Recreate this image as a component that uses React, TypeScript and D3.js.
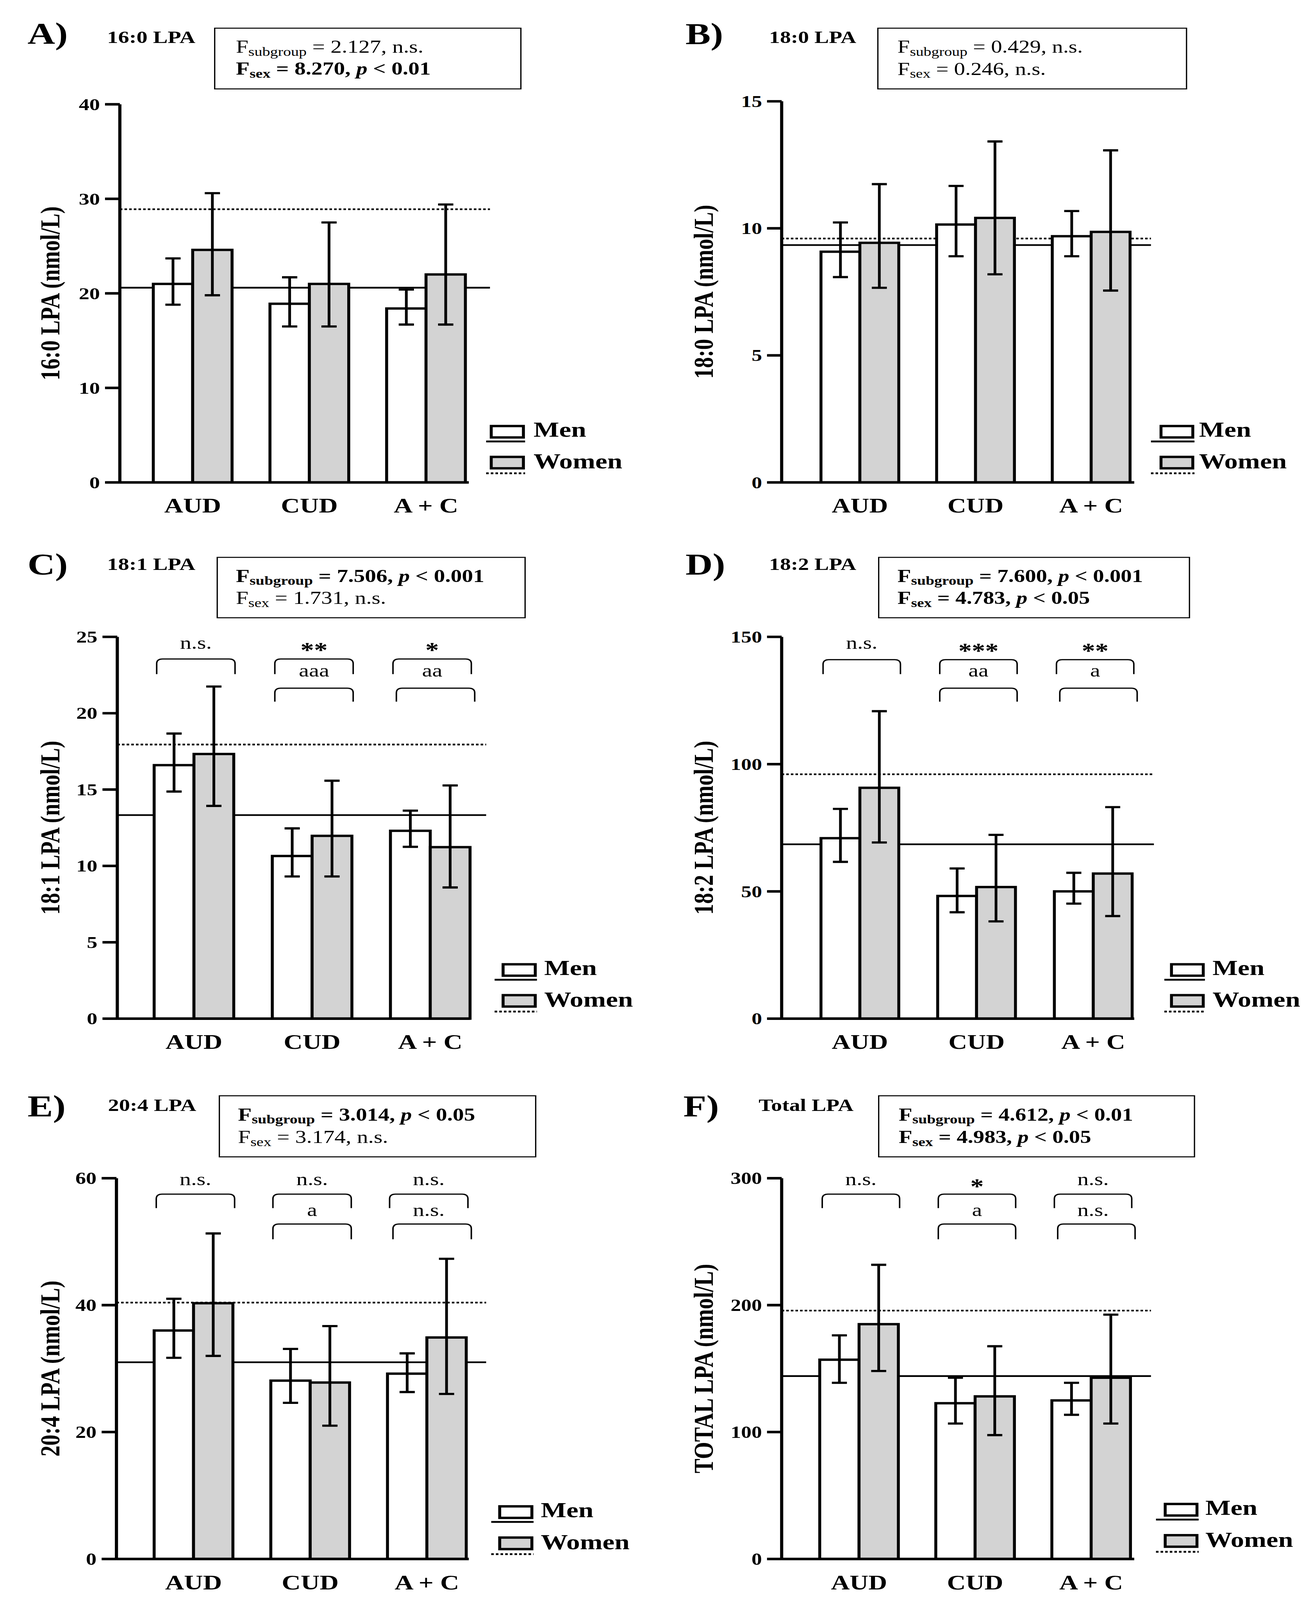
import React from "react";
import * as d3 from "d3";

const categories = ["AUD", "CUD", "A + C"];
const series = ["Men", "Women"];

// ---- Panel A: 16:0 LPA
const aMen = [21.0, 18.9, 18.4];
const aMenLo = [18.8, 16.5, 16.7];
const aMenHi = [23.7, 21.7, 20.4];
const aWomen = [24.6, 21.0, 22.0];
const aWomenLo = [19.8, 16.5, 16.7];
const aWomenHi = [30.6, 27.5, 29.4];
const aRef = [20.6, 28.9];
const aTicks = [0, 10, 20, 30, 40];
const aStats = [["subgroup", "2.127", null], ["sex", "8.270", "0.01"]];

// ---- Panel B: 18:0 LPA
const bMen = [9.08, 10.15, 9.69];
const bMenLo = [8.08, 8.9, 8.9];
const bMenHi = [10.23, 11.67, 10.68];
const bWomen = [9.43, 10.41, 9.86];
const bWomenLo = [7.66, 8.19, 7.55];
const bWomenHi = [11.74, 13.42, 13.07];
const bRef = [9.34, 9.6];
const bTicks = [0, 5, 10, 15];
const bStats = [["subgroup", "0.429", null], ["sex", "0.246", null]];

// ---- Panel C: 18:1 LPA
const cMen = [16.6, 10.65, 12.3];
const cMenLo = [14.87, 9.31, 11.25];
const cMenHi = [18.67, 12.46, 13.62];
const cWomen = [17.33, 11.97, 11.23];
const cWomenLo = [13.93, 9.31, 8.59];
const cWomenHi = [21.75, 15.58, 15.27];
const cRef = [13.33, 17.95];
const cTicks = [0, 5, 10, 15, 20, 25];
const cStats = [["subgroup", "7.506", "0.001"], ["sex", "1.731", null]];
const cTop = ["n.s.", "**", "*"];
const cMid = [null, "aaa", "aa"];

// ---- Panel D: 18:2 LPA
const dMen = [70.9, 48.2, 50.0];
const dMenLo = [61.6, 41.8, 45.2];
const dMenHi = [82.4, 59.0, 57.3];
const dWomen = [90.7, 51.7, 57.0];
const dWomenLo = [69.2, 38.2, 40.3];
const dWomenHi = [120.8, 72.2, 83.1];
const dRef = [68.5, 96.0];
const dTicks = [0, 50, 100, 150];
const dStats = [["subgroup", "7.600", "0.001"], ["sex", "4.783", "0.05"]];
const dTop = ["n.s.", "***", "**"];
const dMid = [null, "aa", "a"];

// ---- Panel E: 20:4 LPA
const eMen = [36.0, 28.1, 29.2];
const eMenLo = [31.7, 24.6, 26.3];
const eMenHi = [41.0, 33.1, 32.4];
const eWomen = [40.3, 27.8, 34.9];
const eWomenLo = [32.0, 21.0, 26.0];
const eWomenHi = [51.3, 36.7, 47.3];
const eRef = [31.0, 40.4];
const eTicks = [0, 20, 40, 60];
const eStats = [["subgroup", "3.014", "0.05"], ["sex", "3.174", null]];
const eTop = ["n.s.", "n.s.", "n.s."];
const eMid = [null, "a", "n.s."];

// ---- Panel F: Total LPA
const fMen = [157, 122.7, 124.9];
const fMenLo = [138.8, 106.7, 113.6];
const fMenHi = [176.2, 142.8, 138.8];
const fWomen = [185, 128.1, 142.8];
const fWomenLo = [148.1, 97.6, 106.7];
const fWomenHi = [231.8, 167.6, 192.5];
const fRef = [144.1, 195.7];
const fTicks = [0, 100, 200, 300];
const fStats = [["subgroup", "4.612", "0.01"], ["sex", "4.983", "0.05"]];
const fTop = ["n.s.", "*", "n.s."];
const fMid = [null, "a", "n.s."];

const panels = [
  { letter: "A)", title: "16:0 LPA", ylabel: "16:0 LPA (nmol/L)", men: aMen, menLo: aMenLo, menHi: aMenHi, women: aWomen, womenLo: aWomenLo, womenHi: aWomenHi, ref: aRef, ticks: aTicks, stats: aStats, top: null, mid: null },
  { letter: "B)", title: "18:0 LPA", ylabel: "18:0 LPA (nmol/L)", men: bMen, menLo: bMenLo, menHi: bMenHi, women: bWomen, womenLo: bWomenLo, womenHi: bWomenHi, ref: bRef, ticks: bTicks, stats: bStats, top: null, mid: null },
  { letter: "C)", title: "18:1 LPA", ylabel: "18:1 LPA (nmol/L)", men: cMen, menLo: cMenLo, menHi: cMenHi, women: cWomen, womenLo: cWomenLo, womenHi: cWomenHi, ref: cRef, ticks: cTicks, stats: cStats, top: cTop, mid: cMid },
  { letter: "D)", title: "18:2 LPA", ylabel: "18:2 LPA (nmol/L)", men: dMen, menLo: dMenLo, menHi: dMenHi, women: dWomen, womenLo: dWomenLo, womenHi: dWomenHi, ref: dRef, ticks: dTicks, stats: dStats, top: dTop, mid: dMid },
  { letter: "E)", title: "20:4 LPA", ylabel: "20:4 LPA (nmol/L)", men: eMen, menLo: eMenLo, menHi: eMenHi, women: eWomen, womenLo: eWomenLo, womenHi: eWomenHi, ref: eRef, ticks: eTicks, stats: eStats, top: eTop, mid: eMid },
  { letter: "F)", title: "Total LPA", ylabel: "TOTAL LPA (nmol/L)", men: fMen, menLo: fMenLo, menHi: fMenHi, women: fWomen, womenLo: fWomenLo, womenHi: fWomenHi, ref: fRef, ticks: fTicks, stats: fStats, top: fTop, mid: fMid },
];

// layout (local panel units), kx/ky map local units to the 1049.7 x 1568.4 frame
const KX_L = 1700 / 1568 / 3.2;
const KX_R = 1679 / 1568 / 3.2;
const KY_T = 1650 / 1568 / 3.2;
const KY_B = 1669 / 1568 / 3.2;

const layouts = [
  { ox: 0, oy: 0, kx: KX_L, ky: KY_T, axisX: 283, yTop: 311, yBot: 1438, xEnd: 1107, c0: 455, c2: 1006, bw: 93, refEnd: 1157, legX: 1160, legLineX: 1148, legTextX: 1260, legY: 1270, labelX: 120, letterX: 65, letterY: 130, titleX: 253, titleY: 128, box: [507, 84, 1230, 265], boxTextX: 557, ann: null },
  { ox: 525, oy: 0, kx: KX_R, ky: KY_T, axisX: 300, yTop: 302, yBot: 1438, xEnd: 1143, c0: 487, c2: 1040, bw: 93, refEnd: 1183, legX: 1207, legLineX: 1183, legTextX: 1298, legY: 1270, labelX: 115, letterX: 70, letterY: 132, titleX: 270, titleY: 128, box: [530, 84, 1268, 265], boxTextX: 577, ann: null },
  { ox: 0, oy: 525, kx: KX_L, ky: KY_T, axisX: 277, yTop: 302, yBot: 1440, xEnd: 1110, c0: 458, c2: 1016, bw: 94, refEnd: 1148, legX: 1188, legLineX: 1168, legTextX: 1285, legY: 1278, labelX: 120, letterX: 65, letterY: 116, titleX: 253, titleY: 102, box: [513, 65, 1240, 245], boxTextX: 557, ann: { b1Top: 368, b1Foot: 413, b2Top: 455, b2Foot: 495, topY: 338, astY: 362, midY: 420 } },
  { ox: 525, oy: 525, kx: KX_R, ky: KY_T, axisX: 300, yTop: 302, yBot: 1440, xEnd: 1143, c0: 487, c2: 1045, bw: 93, refEnd: 1190, legX: 1232, legLineX: 1215, legTextX: 1330, legY: 1278, labelX: 115, letterX: 70, letterY: 116, titleX: 270, titleY: 102, box: [532, 65, 1275, 245], boxTextX: 577, ann: { b1Top: 370, b1Foot: 413, b2Top: 455, b2Foot: 495, topY: 338, astY: 364, midY: 420 } },
  { ox: 0, oy: 1046.875, kx: KX_L, ky: KY_B, axisX: 275, yTop: 325, yBot: 1447, xEnd: 1107, c0: 457, c2: 1008, bw: 93, refEnd: 1148, legX: 1180, legLineX: 1160, legTextX: 1277, legY: 1292, labelX: 120, letterX: 65, letterY: 143, titleX: 255, titleY: 127, box: [518, 82, 1265, 262], boxTextX: 562, ann: { b1Top: 372, b1Foot: 413, b2Top: 460, b2Foot: 505, topY: 345, astY: 370, midY: 436 } },
  { ox: 525, oy: 1046.875, kx: KX_R, ky: KY_B, axisX: 300, yTop: 325, yBot: 1447, xEnd: 1143, c0: 485, c2: 1040, bw: 94, refEnd: 1183, legX: 1217, legLineX: 1195, legTextX: 1313, legY: 1285, labelX: 115, letterX: 65, letterY: 143, titleX: 245, titleY: 127, box: [532, 82, 1287, 262], boxTextX: 580, ann: { b1Top: 372, b1Foot: 413, b2Top: 460, b2Foot: 505, topY: 345, astY: 370, midY: 436 } },
];

const FONT = "'Liberation Serif', 'Times New Roman', serif";
const GRAY = "#d3d3d3";

function StatLine({ x, y, s }: any) {
  const [sub, val, p] = s;
  const fw = p ? "bold" : "normal";
  return (
    <text x={x} y={y} fontSize={53} fontWeight={fw} fontFamily={FONT}>
      F
      <tspan fontSize={37} dy={9}>{sub}</tspan>
      <tspan dy={-9}>{" = " + val + ", "}</tspan>
      {p ? (
        <>
          <tspan fontStyle="italic">p</tspan>
          <tspan>{" < " + p}</tspan>
        </>
      ) : (
        <tspan>n.s.</tspan>
      )}
    </text>
  );
}

function bracketPath(x0: number, x1: number, top: number, foot: number) {
  const r = 14;
  return `M${x0},${foot} L${x0},${top + r} Q${x0},${top} ${x0 + r},${top} L${x1 - r},${top} Q${x1},${top} ${x1},${top + r} L${x1},${foot}`;
}

function Panel({ d, L }: any) {
  const yMax = d.ticks[d.ticks.length - 1];
  const y = d3.scaleLinear().domain([0, yMax]).range([L.yBot, L.yTop]);
  const xc = d3.scalePoint<string>().domain(categories).range([L.c0, L.c2]);
  const xs = d3.scaleBand<string>().domain(series).range([-L.bw, L.bw]).padding(0);
  const bw = xs.bandwidth();
  const vals: any = { Men: [d.men, d.menLo, d.menHi], Women: [d.women, d.womenLo, d.womenHi] };
  const yMid = (L.yTop + L.yBot) / 2;
  const capW = 36;

  return (
    <g transform={`translate(${L.ox},${L.oy}) scale(${L.kx},${L.ky})`} fontFamily={FONT}>
      <text x={L.letterX} y={L.letterY} fontSize={90} fontWeight="bold">{d.letter}</text>
      <text x={L.titleX} y={L.titleY} fontSize={52} fontWeight="bold">{d.title}</text>
      <rect x={L.box[0]} y={L.box[1]} width={L.box[2] - L.box[0]} height={L.box[3] - L.box[1]} fill="none" stroke="#000" strokeWidth={3} />
      <StatLine x={L.boxTextX} y={L.box[1] + 73} s={d.stats[0]} />
      <StatLine x={L.boxTextX} y={L.box[1] + 139} s={d.stats[1]} />

      <line x1={L.axisX} x2={L.refEnd} y1={y(d.ref[0])} y2={y(d.ref[0])} stroke="#000" strokeWidth={5} />
      <line x1={L.axisX} x2={L.refEnd} y1={y(d.ref[1])} y2={y(d.ref[1])} stroke="#000" strokeWidth={5} strokeDasharray="6 5" />

      {categories.map((c, i) =>
        series.map((s) => {
          const v = vals[s][0][i];
          return (
            <rect key={c + s} x={(xc(c) as number) + (xs(s) as number)} y={y(v)} width={bw} height={y(0) - y(v)}
              fill={s === "Men" ? "#fff" : GRAY} stroke="#000" strokeWidth={7} />
          );
        })
      )}
      {categories.map((c, i) =>
        series.map((s) => {
          const cx = (xc(c) as number) + (xs(s) as number) + bw / 2;
          const lo = y(vals[s][1][i]);
          const hi = y(vals[s][2][i]);
          return (
            <g key={"e" + c + s} stroke="#000" strokeWidth={6.5}>
              <line x1={cx} x2={cx} y1={hi} y2={lo} />
              <line x1={cx - capW / 2} x2={cx + capW / 2} y1={hi} y2={hi} />
              <line x1={cx - capW / 2} x2={cx + capW / 2} y1={lo} y2={lo} />
            </g>
          );
        })
      )}

      <line x1={L.axisX} x2={L.axisX} y1={y(yMax)} y2={y(0) + 3} stroke="#000" strokeWidth={7.5} />
      <line x1={L.axisX} x2={L.xEnd} y1={y(0)} y2={y(0)} stroke="#000" strokeWidth={7.5} />
      {d.ticks.map((t: number) => (
        <g key={"t" + t}>
          <line x1={L.axisX - 35} x2={L.axisX} y1={y(t)} y2={y(t)} stroke="#000" strokeWidth={7.5} />
          <text x={L.axisX - 47} y={y(t) + 17} fontSize={50} fontWeight="bold" textAnchor="end">{t}</text>
        </g>
      ))}
      {categories.map((c) => (
        <text key={"c" + c} x={xc(c)} y={L.yBot + 90} fontSize={62} fontWeight="bold" textAnchor="middle">{c}</text>
      ))}
      <text transform={`translate(${L.labelX + 20},${yMid}) rotate(-90)`} fontSize={65} fontWeight="bold" textAnchor="middle">{d.ylabel}</text>

      {L.ann && d.top && categories.map((c, i) => {
        const cx = xc(c) as number;
        const x0 = cx - 88, x1 = cx + 97;
        const tc = (x0 + x1) / 2;
        const isAst = d.top[i].startsWith("*");
        const A = L.ann;
        return (
          <g key={"b" + c}>
            <path d={bracketPath(x0, x1, A.b1Top, A.b1Foot)} fill="none" stroke="#000" strokeWidth={3.5} />
            <text x={tc} y={isAst ? A.astY : A.topY} fontSize={isAst ? 64 : 54} fontWeight={isAst ? "bold" : "normal"} textAnchor="middle">{d.top[i]}</text>
            {d.mid[i] && (
              <>
                <text x={tc} y={A.midY} fontSize={54} textAnchor="middle">{d.mid[i]}</text>
                <path d={bracketPath(x0 + (i === 2 ? 8 : 0), x1 + (i === 2 ? 8 : 0), A.b2Top, A.b2Foot)} fill="none" stroke="#000" strokeWidth={3.5} />
              </>
            )}
          </g>
        );
      })}

      <rect x={L.legX} y={L.legY} width={76} height={34} fill="#fff" stroke="#000" strokeWidth={7} />
      <line x1={L.legLineX} x2={L.legX + 80} y1={L.legY + 46} y2={L.legY + 46} stroke="#000" strokeWidth={5.5} />
      <text x={L.legTextX} y={L.legY + 32} fontSize={64} fontWeight="bold">Men</text>
      <rect x={L.legX} y={L.legY + 92} width={76} height={34} fill={GRAY} stroke="#000" strokeWidth={7} />
      <line x1={L.legLineX} x2={L.legX + 80} y1={L.legY + 141} y2={L.legY + 141} stroke="#000" strokeWidth={5.5} strokeDasharray="6 5" />
      <text x={L.legTextX} y={L.legY + 126} fontSize={64} fontWeight="bold">Women</text>
    </g>
  );
}

export default function App() {
  const W = 3359 / 3.2;
  const H = 5019 / 3.2;
  return (
    <svg viewBox={`0 0 ${W} ${H}`} preserveAspectRatio="none"
      style={{ position: "fixed", left: 0, top: 0, width: "100vw", height: "100vh", background: "#fff", display: "block" }}>
      <rect x={0} y={0} width={W} height={H} fill="#fff" />
      {panels.map((d, i) => (
        <Panel key={d.letter} d={d} L={layouts[i]} />
      ))}
    </svg>
  );
}
